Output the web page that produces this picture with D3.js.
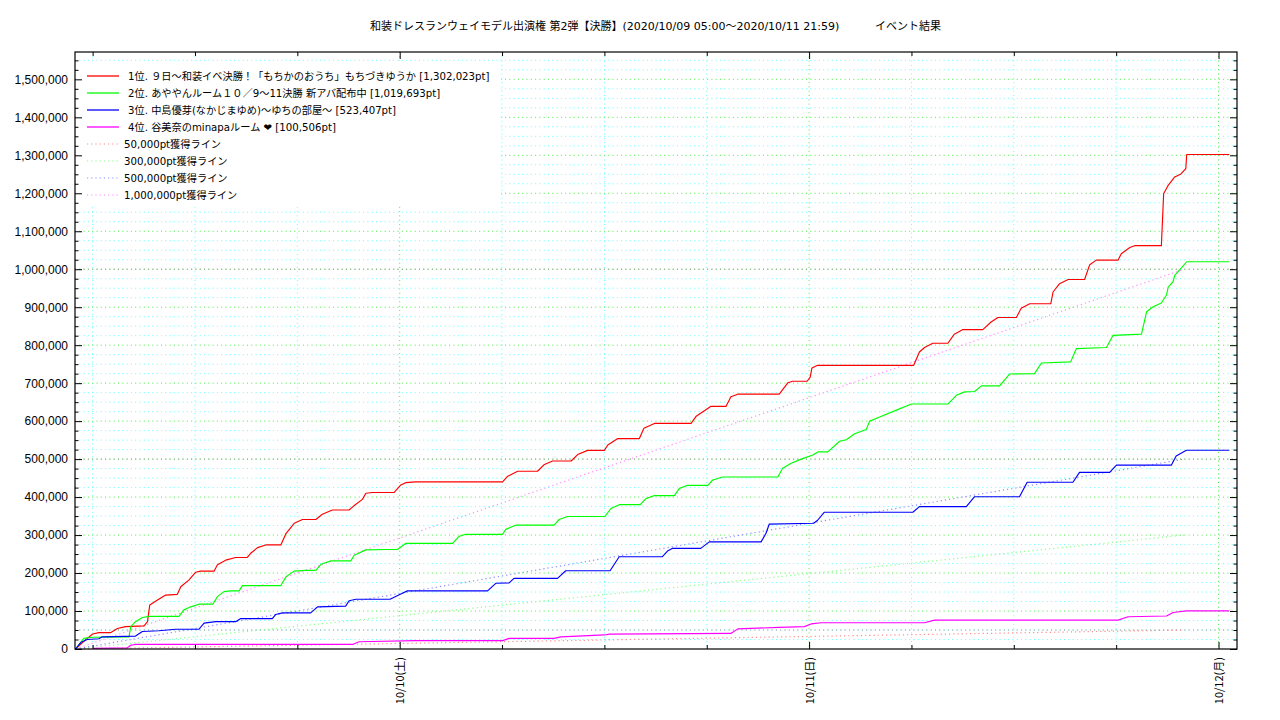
<!DOCTYPE html>
<html><head><meta charset="utf-8">
<script src="https://cdn.jsdelivr.net/npm/d3@7"></script>
<style>
body{margin:0;background:#fff}
svg{display:block}
text{font-family:"Noto Sans CJK JP","Noto Sans",sans-serif;fill:#000}
.mix{font-family:"DejaVu Sans","Noto Sans CJK JP",sans-serif}
.ylab text{font-family:"Liberation Sans",Arial,sans-serif}
</style></head>
<body><svg id="chart" width="1280" height="720"></svg>
<script>
const titleMain = "和装ドレスランウェイモデル出演権 第2弾【決勝】(2020/10/09 05:00～2020/10/11 21:59)";
const titleSub = "イベント結果";
const seriesNames = [
  "1位. ９日〜和装イベ決勝！「もちかのおうち」もちづきゆうか [1,302,023pt]",
  "2位. あややんルーム１０／9〜11決勝 新アバ配布中 [1,019,693pt]",
  "3位. 中島優芽(なかじまゆめ)〜ゆちの部屋〜 [523,407pt]",
  "4位. 谷美奈のminapaルーム ❤ [100,506pt]"
];
const paceNames = ["50,000pt獲得ライン","300,000pt獲得ライン","500,000pt獲得ライン","1,000,000pt獲得ライン"];
const paceTargets = [50000, 300000, 500000, 1000000];
const eventStart = "10/09 05:00";
const eventEnd = "10/11 21:59";
const yTicks = [0,100000,200000,300000,400000,500000,600000,700000,800000,900000,1000000,1100000,1200000,1300000,1400000,1500000];
const refLines = [50000, 500000, 1000000];
const xDays = ["10/10 00:00","10/11 00:00","10/12 00:00"];
const xDayLabels = ["10/10(土)","10/11(日)","10/12(月)"];

const rank1 = [["10/09 05:00",0],["10/09 05:35",24000],["10/09 06:00",39500],["10/09 06:22",43000],["10/09 07:03",43000],["10/09 07:27",54000],["10/09 07:56",59000],["10/09 09:01",61000],["10/09 09:13",72000],["10/09 09:21",116000],["10/09 09:48",129000],["10/09 10:17",142000],["10/09 10:58",144000],["10/09 11:10",164000],["10/09 11:39",182000],["10/09 12:02",202000],["10/09 12:20",205000],["10/09 13:07",205000],["10/09 13:19",222000],["10/09 13:48",234000],["10/09 14:23",241000],["10/09 15:04",241000],["10/09 15:16",252000],["10/09 15:40",267000],["10/09 16:09",274000],["10/09 17:02",274000],["10/09 17:20",304000],["10/09 17:49",331000],["10/09 18:18",341000],["10/09 19:05",341000],["10/09 19:28",355000],["10/09 20:03",366000],["10/09 21:02",366000],["10/09 21:19",377000],["10/09 21:49",394000],["10/09 22:01",410000],["10/09 22:24",412000],["10/09 23:40",412000],["10/10 00:04",432000],["10/10 00:21",438000],["10/10 00:56",440000],["10/10 06:02",440000],["10/10 06:20",455000],["10/10 06:55",468000],["10/10 08:05",468000],["10/10 08:29",486000],["10/10 08:58",495000],["10/10 10:03",495000],["10/10 10:26",512000],["10/10 11:01",523000],["10/10 12:00",523000],["10/10 12:12",537000],["10/10 12:47",554000],["10/10 14:03",554000],["10/10 14:19",581000],["10/10 14:56",594000],["10/10 17:05",594000],["10/10 17:23",613000],["10/10 18:15",639000],["10/10 19:08",639000],["10/10 19:25",664000],["10/10 19:49",671000],["10/10 22:15",671000],["10/10 22:45",701000],["10/10 23:02",705000],["10/10 23:53",705000],["10/11 00:04",716000],["10/11 00:10",740000],["10/11 00:30",747000],["10/11 06:08",747000],["10/11 06:28",782000],["10/11 06:46",794000],["10/11 07:15",805000],["10/11 08:08",805000],["10/11 08:31",829000],["10/11 09:01",841000],["10/11 10:11",841000],["10/11 10:40",861000],["10/11 11:04",873000],["10/11 12:09",873000],["10/11 12:26",897000],["10/11 12:56",909000],["10/11 14:10",909000],["10/11 14:18",940000],["10/11 14:41",962000],["10/11 15:11",973000],["10/11 16:09",973000],["10/11 16:27",1012000],["10/11 16:50",1024000],["10/11 18:07",1024000],["10/11 18:18",1041000],["10/11 18:48",1057000],["10/11 19:05",1062000],["10/11 20:39",1062000],["10/11 20:47",1199000],["10/11 21:03",1221000],["10/11 21:26",1243000],["10/11 21:48",1251000],["10/11 22:05",1265000],["10/11 22:08",1302023],["10/12 00:38",1302023]];

const rank2 = [["10/09 05:00",0],["10/09 05:29",28000],["10/09 05:59",31000],["10/09 08:08",32000],["10/09 08:14",59000],["10/09 08:31",72000],["10/09 08:55",83000],["10/09 09:18",86000],["10/09 11:04",86000],["10/09 11:21",103000],["10/09 11:45",111000],["10/09 12:14",118000],["10/09 13:03",118000],["10/09 13:19",138000],["10/09 13:42",151000],["10/09 14:06",153000],["10/09 14:35",153000],["10/09 14:47",167000],["10/09 17:02",167000],["10/09 17:20",190000],["10/09 17:49",205000],["10/09 18:30",207000],["10/09 19:05",207000],["10/09 19:23",223000],["10/09 19:58",232000],["10/09 21:08",232000],["10/09 21:20",247000],["10/09 22:01",261000],["10/09 23:11",262000],["10/09 23:52",262000],["10/10 00:21",278000],["10/10 03:06",278000],["10/10 03:30",297000],["10/10 03:53",302000],["10/10 06:02",302000],["10/10 06:13",315000],["10/10 06:48",326000],["10/10 09:03",326000],["10/10 09:21",341000],["10/10 09:50",349000],["10/10 12:02",349000],["10/10 12:23",370000],["10/10 12:52",380000],["10/10 14:06",380000],["10/10 14:26",396000],["10/10 14:56",404000],["10/10 16:06",404000],["10/10 16:24",423000],["10/10 16:53",431000],["10/10 18:04",431000],["10/10 18:21",445000],["10/10 18:56",453000],["10/10 22:10",453000],["10/10 22:27",476000],["10/10 22:57",489000],["10/10 23:32",500000],["10/11 00:13",511000],["10/11 00:31",519000],["10/11 01:06",519000],["10/11 01:47",547000],["10/11 02:11",551000],["10/11 02:40",567000],["10/11 03:21",578000],["10/11 03:33",600000],["10/11 04:08",611000],["10/11 05:07",629000],["10/11 06:00",645000],["10/11 08:08",645000],["10/11 08:38",668000],["10/11 09:07",677000],["10/11 09:42",678000],["10/11 10:06",693000],["10/11 11:10",693000],["10/11 11:45",724000],["10/11 13:13",725000],["10/11 13:37",753000],["10/11 15:20",756000],["10/11 15:40",791000],["10/11 17:26",794000],["10/11 17:49",826000],["10/11 19:29",829000],["10/11 19:47",888000],["10/11 20:10",901000],["10/11 20:39",911000],["10/11 20:57",932000],["10/11 21:03",953000],["10/11 21:20",967000],["10/11 21:26",984000],["10/11 21:48",1002000],["10/11 22:08",1019693],["10/12 00:38",1019693]];

const rank3 = [["10/09 05:00",0],["10/09 05:18",17000],["10/09 05:41",25000],["10/09 06:22",27000],["10/09 06:34",32000],["10/09 08:31",34000],["10/09 08:55",46000],["10/09 09:53",48000],["10/09 10:52",52000],["10/09 12:14",52000],["10/09 12:32",68000],["10/09 13:13",72000],["10/09 14:23",72000],["10/09 14:41",80000],["10/09 16:32",80000],["10/09 16:44",91000],["10/09 17:08",95000],["10/09 18:47",95000],["10/09 19:11",111000],["10/09 20:50",113000],["10/09 21:02",127000],["10/09 21:26",131000],["10/09 23:26",131000],["10/10 00:04",145000],["10/10 00:27",153000],["10/10 05:09",153000],["10/10 05:38",173000],["10/10 06:25",174000],["10/10 06:42",186000],["10/10 09:15",186000],["10/10 09:44",206000],["10/10 12:20",206000],["10/10 12:52",243000],["10/10 15:24",243000],["10/10 15:42",258000],["10/10 16:00",265000],["10/10 17:39",265000],["10/10 18:09",282000],["10/10 21:11",282000],["10/10 21:28",304000],["10/10 21:40",329000],["10/11 00:16",331000],["10/11 00:30",339000],["10/11 00:53",360000],["10/11 06:05",360000],["10/11 06:28",375000],["10/11 09:13",375000],["10/11 09:42",401000],["10/11 12:20",401000],["10/11 12:47",439000],["10/11 15:28",439000],["10/11 15:51",465000],["10/11 17:37",465000],["10/11 18:01",484000],["10/11 21:14",484000],["10/11 21:31",508000],["10/11 22:07",523407],["10/12 00:38",523407]];

const rank4 = [["10/09 06:04",1500],["10/09 08:02",3000],["10/09 08:14",10000],["10/09 08:31",12000],["10/09 21:14",12000],["10/09 21:37",19000],["10/10 00:56",22000],["10/10 06:02",22000],["10/10 06:25",28000],["10/10 09:03",28000],["10/10 09:27",32000],["10/10 12:00",37000],["10/10 12:18",39000],["10/10 19:25",41000],["10/10 19:49",53000],["10/10 22:15",57000],["10/10 23:43",59000],["10/11 00:07",66000],["10/11 00:42",69000],["10/11 06:46",69000],["10/11 07:21",76000],["10/11 18:07",76000],["10/11 18:42",85000],["10/11 20:57",87000],["10/11 21:20",96000],["10/11 22:07",100506],["10/12 00:38",100506]];

const seriesData = [rank1, rank2, rank3, rank4];
const seriesColors = ["#ff0000","#00ff00","#0000ff","#ff00ff"];
const paceColors = ["#ff8c8c","#8cff8c","#8c8cff","#ff8cff"];

const parse = d3.timeParse("%Y/%m/%d %H:%M");
const T = s => parse("2020/" + s);

const L = 75, R = 1237, TOP = 52, BOT = 649;
const svg = d3.select("#chart");

const x = d3.scaleTime().domain([T("10/09 04:58"), T("10/12 01:05")]).range([L, R]);
const y = d3.scaleLinear().domain([0, 1572000]).range([BOT, TOP]);

// grid
const g = svg.append("g");
const minorY = d3.range(25000, 1572000, 25000).filter(v => v % 100000 !== 0);
const majorY = yTicks.filter(v => v > 0);
const sixHours = d3.timeHour.every(6).range(T("10/09 05:00"), T("10/12 01:00"));
const dayTimes = xDays.map(T);
const minorX = sixHours.filter(t => t.getHours() !== 0);

function hgrid(vals, color) {
  g.append("g").selectAll("line").data(vals).join("line")
    .attr("x1", L).attr("x2", R).attr("y1", d => y(d)).attr("y2", d => y(d))
    .attr("stroke", color).attr("stroke-width", 1).attr("stroke-dasharray", "1,3.3");
}
function vgrid(vals, color) {
  g.append("g").selectAll("line").data(vals).join("line")
    .attr("y1", TOP).attr("y2", BOT).attr("x1", d => x(d)).attr("x2", d => x(d))
    .attr("stroke", color).attr("stroke-width", 1).attr("stroke-dasharray", "1,3.3");
}
hgrid(minorY, "#66ffff");
vgrid(minorX, "#66ffff");
hgrid(majorY, "#44ee44");
vgrid(dayTimes, "#44ee44");
hgrid(refLines, "#999999");

// pace lines
const line = d3.line().x(d => x(T(d[0]))).y(d => y(d[1]));
paceTargets.forEach((v, i) => {
  svg.append("path").attr("d", line([[eventStart, 0], [eventEnd, v]]))
    .attr("fill", "none").attr("stroke", paceColors[i]).attr("stroke-width", 1.2)
    .attr("stroke-dasharray", "1.2,3");
});

// series
seriesData.forEach((data, i) => {
  svg.append("path").attr("d", line(data))
    .attr("fill", "none").attr("stroke", seriesColors[i]).attr("stroke-width", 1.15)
    .attr("stroke-linejoin", "round");
});

// legend (opaque)
const lg = svg.append("g");
lg.append("rect").attr("x", L + 1).attr("y", 61).attr("width", 425).attr("height", 144).attr("fill", "#fff");
const rowY = i => 76 + i * 17;
seriesNames.forEach((n, i) => {
  lg.append("line").attr("x1", 87).attr("x2", 119).attr("y1", rowY(i)).attr("y2", rowY(i))
    .attr("stroke", seriesColors[i]).attr("stroke-width", 1.3);
  lg.append("text").attr("class", "mix").attr("x", 128).attr("y", rowY(i) + 4).attr("font-size", 10.2).text(n);
});
paceNames.forEach((n, j) => {
  const i = j + 4;
  lg.append("line").attr("x1", 87).attr("x2", 119).attr("y1", rowY(i)).attr("y2", rowY(i))
    .attr("stroke", paceColors[j]).attr("stroke-width", 1.2).attr("stroke-dasharray", "1.2,3");
  lg.append("text").attr("class", "mix").attr("x", 124).attr("y", rowY(i) + 4).attr("font-size", 10.2).text(n);
});

// axes
const fmt = d3.format(",");
const ax = svg.append("g");
ax.append("g").attr("class", "ylab").attr("transform", `translate(${L},0)`)
  .call(d3.axisLeft(y).tickValues(yTicks).tickSize(-7).tickPadding(7).tickFormat(fmt))
  .call(s => s.select(".domain").remove())
  .call(s => s.selectAll("text").attr("font-size", 12));
ax.append("g").attr("transform", `translate(${L},0)`)
  .call(d3.axisLeft(y).tickValues(minorY).tickSize(-3.5).tickFormat(""))
  .call(s => s.select(".domain").remove());
ax.append("g").attr("transform", `translate(${R},0)`)
  .call(d3.axisRight(y).tickValues(yTicks).tickSize(-7).tickFormat(""))
  .call(s => s.select(".domain").remove());
ax.append("g").attr("transform", `translate(${R},0)`)
  .call(d3.axisRight(y).tickValues(minorY).tickSize(-3.5).tickFormat(""))
  .call(s => s.select(".domain").remove());
ax.append("g").attr("transform", `translate(0,${BOT})`)
  .call(d3.axisBottom(x).tickValues(dayTimes).tickSize(-7).tickFormat((d, i) => xDayLabels[i]))
  .call(s => s.select(".domain").remove())
  .call(s => s.selectAll("text").attr("font-size", 11)
    .attr("transform", "rotate(-90)").attr("text-anchor", "end")
    .attr("x", -8).attr("y", 4).attr("dy", null));
ax.append("g").attr("transform", `translate(0,${BOT})`)
  .call(d3.axisBottom(x).tickValues(minorX).tickSize(-4).tickFormat(""))
  .call(s => s.select(".domain").remove());
ax.append("g").attr("transform", `translate(0,${TOP})`)
  .call(d3.axisTop(x).tickValues(dayTimes).tickSize(-7).tickFormat(""))
  .call(s => s.select(".domain").remove());
ax.append("g").attr("transform", `translate(0,${TOP})`)
  .call(d3.axisTop(x).tickValues(minorX).tickSize(-4).tickFormat(""))
  .call(s => s.select(".domain").remove());
svg.selectAll(".tick line").attr("stroke", "#000");
svg.append("rect").attr("x", L).attr("y", TOP).attr("width", R - L).attr("height", BOT - TOP)
  .attr("fill", "none").attr("stroke", "#000").attr("stroke-width", 1.2);

// title
svg.append("text").attr("class", "mix").attr("x", 370).attr("y", 30).attr("font-size", 11).text(titleMain);
svg.append("text").attr("class", "mix").attr("x", 875).attr("y", 30).attr("font-size", 11).text(titleSub);
</script></body></html>
